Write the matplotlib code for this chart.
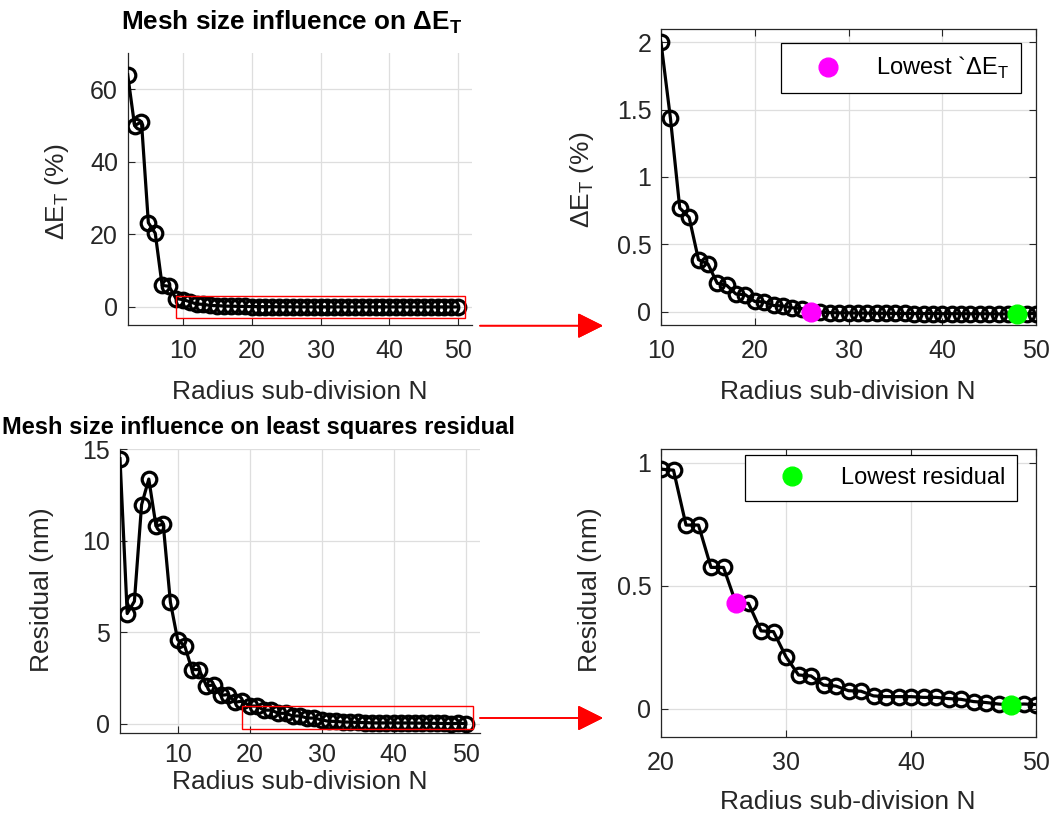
import numpy as np
import matplotlib
matplotlib.use("Agg")
import matplotlib.pyplot as plt
from matplotlib.patches import Rectangle

plt.rcParams['font.family'] = ['Liberation Sans', 'DejaVu Sans']
plt.rcParams['mathtext.fontset'] = 'custom'
plt.rcParams['mathtext.rm'] = 'Liberation Sans'
plt.rcParams['mathtext.bf'] = 'Liberation Sans:bold'

# ---- data ----
N = list(range(2, 51))
dE = [64.0, 50.0, 51.0, 23.2, 20.3, 5.9, 5.7, 2.3,
      2.00, 1.44, 0.77, 0.70, 0.385, 0.355, 0.21, 0.195, 0.13, 0.125,
      0.075, 0.072, 0.045, 0.042, 0.028, 0.022, 0.0, -0.005, -0.008, -0.010,
      -0.010, -0.012, -0.012, -0.013, -0.013, -0.014, -0.014, -0.015, -0.015,
      -0.015, -0.016, -0.016, -0.016, -0.017, -0.017, -0.017, -0.018, -0.018,
      -0.018, -0.017, -0.015]
resid = [14.47, 6.02, 6.69, 11.96, 13.36, 10.8, 10.9, 6.64, 4.6, 4.24,
         2.96, 2.96, 2.07, 2.12, 1.55, 1.60, 1.18, 1.24,
         0.974, 0.970, 0.747, 0.747, 0.575, 0.575, 0.429, 0.429, 0.317, 0.314,
         0.212, 0.138, 0.134, 0.097, 0.093, 0.074, 0.072, 0.053, 0.050, 0.050,
         0.050, 0.047, 0.047, 0.042, 0.039, 0.030, 0.026, 0.020, 0.016, 0.020,
         0.018]
N_best_dE = 26      # lowest dE_T
N_best_res = 48     # lowest residual

N = np.array(N); dE = np.array(dE); resid = np.array(resid)
iE = int(np.where(N == N_best_dE)[0][0]); iR = int(np.where(N == N_best_res)[0][0])

AX = "#262626"; GRID = "#dedede"
W, H = 1053, 817
fig = plt.figure(figsize=(W/100, H/100), dpi=100)

def pos(x0, y0, x1, y1):
    return [x0/W, 1-y1/H, (x1-x0)/W, (y1-y0)/H]

axTL = fig.add_axes(pos(127.7, 53, 472, 325))
axTR = fig.add_axes(pos(661, 29, 1036, 325))
axBL = fig.add_axes(pos(120, 449, 480, 733))
axBR = fig.add_axes(pos(661, 449, 1036, 737))

def style(ax, box, xpad=10):
    ax.grid(True, color=GRID, lw=0.9)
    ax.set_axisbelow(True)
    for s in ax.spines.values():
        s.set_color(AX); s.set_linewidth(0.9)
    if not box:
        ax.spines['top'].set_visible(False); ax.spines['right'].set_visible(False)
    ax.tick_params(direction='in', length=5, width=0.8, colors=AX, labelsize=18,
                   top=box, right=box, pad=7)
    ax.tick_params(axis='x', pad=xpad)

def curve(ax, y):
    ax.plot(N, y, '-o', color='black', lw=2.3, ms=10.5, mfc='none', mec='black', mew=2.3, zorder=3)

# top-left
curve(axTL, dE)
axTL.set_xlim(2, 52); axTL.set_ylim(-5, 70)
axTL.set_xticks([10, 20, 30, 40, 50]); axTL.set_yticks([0, 20, 40, 60])
style(axTL, False)
axTL.add_patch(Rectangle((9, -3), 42, 6, fill=False, ec='red', lw=1, zorder=4))

# top-right
curve(axTR, dE)
axTR.plot(N[iE], dE[iE], 'o', color='#ff00ff', ms=13.5, zorder=5, label=r'Lowest `ΔE$_\mathrm{T}$')
axTR.plot(N[iR], dE[iR], 'o', color='#00ff00', ms=13.5, zorder=5)
axTR.set_xlim(10, 50); axTR.set_ylim(-0.1, 2.1)
axTR.set_xticks([10, 20, 30, 40, 50]); axTR.set_yticks([0, 0.5, 1, 1.5, 2])
axTR.set_yticklabels(['0', '0.5', '1', '1.5', '2'])
style(axTR, True)

# bottom-left
curve(axBL, resid)
axBL.set_xlim(2, 52); axBL.set_ylim(-0.5, 15)
axBL.set_xticks([10, 20, 30, 40, 50]); axBL.set_yticks([0, 5, 10, 15])
style(axBL, False, xpad=7)
axBL.add_patch(Rectangle((19, -0.3), 32, 1.3, fill=False, ec='red', lw=1, zorder=4))

# bottom-right
curve(axBR, resid)
axBR.plot(N[iE], resid[iE], 'o', color='#ff00ff', ms=13.5, zorder=5)
axBR.plot(N[iR], resid[iR], 'o', color='#00ff00', ms=13.5, zorder=5, label='Lowest residual')
axBR.set_xlim(20, 50); axBR.set_ylim(-0.114, 1.056)
axBR.set_xticks([20, 30, 40, 50]); axBR.set_yticks([0, 0.5, 1])
axBR.set_yticklabels(['0', '0.5', '1'])
style(axBR, True)

leg_kw = dict(loc='upper right', fontsize=17, frameon=True, fancybox=False, framealpha=1,
              edgecolor='black', handlelength=3, handletextpad=0.55, borderpad=0.5,
              borderaxespad=0)
l1 = axTR.legend(bbox_to_anchor=((1021-661)/375, 1-(43-29)/296), **leg_kw)
l2 = axBR.legend(bbox_to_anchor=((1017-661)/375, 1-(455-449)/288), **leg_kw)
for l in (l1, l2):
    l.get_frame().set_linewidth(0.9)

# labels
xl = "Radius sub-division N"
for cx, cy in [(300, 392), (848, 392), (300, 782), (848, 802)]:
    fig.text(cx/W, 1-cy/H, xl, fontsize=19, color=AX, ha='center', va='center')
yE = r'ΔE$_\mathrm{T}$ (%)'
fig.text(57/W, 1-192/H, yE, fontsize=19, color=AX, rotation=90, ha='center', va='center')
fig.text(582/W, 1-180/H, yE, fontsize=19, color=AX, rotation=90, ha='center', va='center')
fig.text(42/W, 1-590/H, "Residual (nm)", fontsize=19, color=AX, rotation=90, ha='center', va='center')
fig.text(590/W, 1-590/H, "Residual (nm)", fontsize=19, color=AX, rotation=90, ha='center', va='center')

fig.text(292/W, 1-22/H, r'Mesh size influence on ΔE$_\mathbf{T}$', fontsize=18.8,
         fontweight='bold', ha='center', va='center')
fig.text(258/W, 1-428/H, 'Mesh size influence on least squares residual', fontsize=17,
         fontweight='bold', ha='center', va='center')

# red arrows from the zoom boxes to the zoomed plots
for yy in (325.7, 718):
    fig.add_artist(plt.annotate("", xy=(603, H-yy), xytext=(480, H-yy), xycoords='figure pixels',
                                textcoords='figure pixels',
                                arrowprops=dict(arrowstyle='-|>,head_length=0.4,head_width=0.2',
                                                color='red', lw=1.2, mutation_scale=40,
                                                shrinkA=0, shrinkB=0)))

fig.savefig("out.png", dpi=100)
